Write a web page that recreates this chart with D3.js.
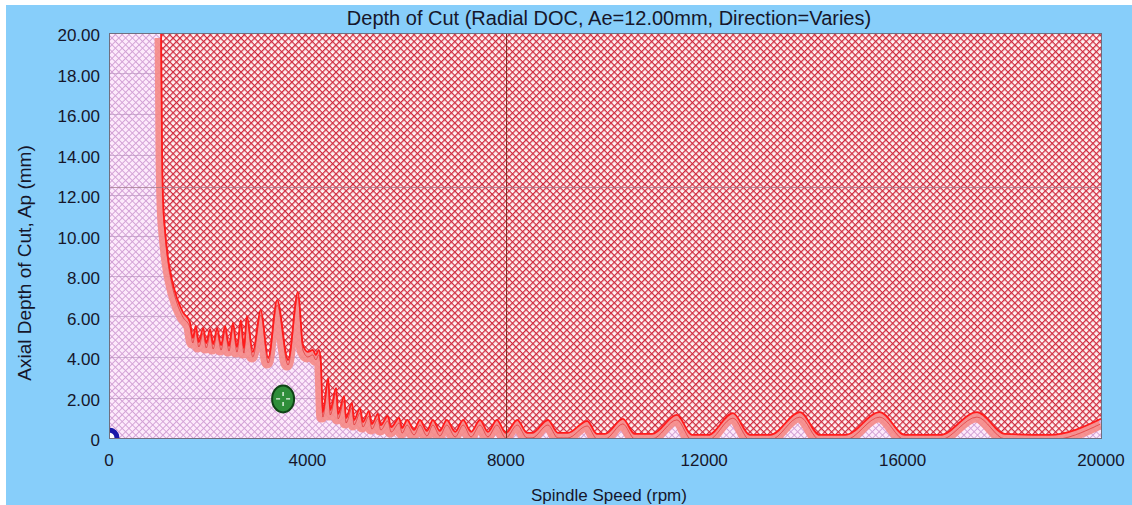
<!DOCTYPE html>
<html>
<head>
<meta charset="utf-8">
<script src="https://cdn.jsdelivr.net/npm/d3@7"></script>
<style>
  html, body { margin: 0; padding: 0; background: #ffffff; }
  svg { display: block; font-family: "Liberation Sans", Arial, sans-serif; }
</style>
</head>
<body>
<div id="chart"></div>
<script>
(function (d3) {
    'use strict';

    // stability boundary (rpm, mm)
    var boundaryRpm = [
        1050, 1070, 1090, 1130, 1190, 1270, 1370, 1490, 1630,
        1690, 1750, 1810, 1900, 1960, 2040, 2100, 2180, 2260, 2340, 2420, 2500, 2580, 2660, 2720,
        2780, 2900, 3060, 3210, 3390, 3610, 3810, 3910, 4010, 4110, 4170, 4230, 4270,
        4310, 4420, 4460, 4580, 4620, 4740, 4780, 4900, 4940, 5060, 5120, 5240, 5300, 5420, 5480,
        5620, 5690, 5850, 5910,
        6010, 6150, 6270, 6410, 6530, 6670, 6810, 6980, 7140, 7300, 7480, 7640, 7820, 8000,
        8230, 8430, 8530, 8850, 9050, 9250, 9640, 9840, 10000, 10360, 10600, 10950, 11450, 11750,
        12080, 12580, 12920, 13330, 13930, 14330, 14840, 15540, 16050, 16750, 17500, 18060,
        18970, 20000
    ];
    var boundaryDepth = [
        20.0, 14.2, 11.75, 10.27, 8.89, 7.80, 6.91, 6.22, 5.73,
        4.94, 5.53, 4.74, 5.43, 4.69, 5.38, 4.64, 5.43, 4.59, 5.53, 4.54, 5.68, 4.49, 5.83, 4.44,
        6.02, 4.25, 6.32, 3.95, 6.81, 3.85, 7.21, 4.59, 4.25, 4.35, 4.10, 4.35, 3.85,
        1.28, 2.96, 1.38, 2.47, 1.19, 2.07, 0.99, 1.73, 0.89, 1.48, 0.79, 1.33, 0.69, 1.19, 0.64,
        1.09, 0.54, 0.99, 0.49,
        0.89, 0.40, 0.89, 0.35, 0.89, 0.35, 0.89, 0.30, 0.89, 0.30, 0.89, 0.30, 0.89, 0.25,
        0.89, 0.25, 0.25, 0.89, 0.25, 0.25, 0.84, 0.20, 0.20, 0.94, 0.20, 0.20, 1.14, 0.15,
        0.15, 1.23, 0.15, 0.15, 1.28, 0.15, 0.15, 1.28, 0.15, 0.15, 1.28, 0.20,
        0.15, 0.95
    ];

    var xTicks = [0, 4000, 8000, 12000, 16000, 20000];
    var yTicks = [0, 2, 4, 6, 8, 10, 12, 14, 16, 18, 20];

    var cursorRpm = 8000, cursorDepth = 12.4;       // crosshair
    var pointRpm = 3510, pointDepth = 1.93;          // green operating point

    var titleText = 'Depth of Cut (Radial DOC, Ae=12.00mm, Direction=Varies)';
    var xLabel = 'Spindle Speed (rpm)';
    var yLabel = 'Axial Depth of Cut, Ap (mm)';

    var W = 1132, H = 505;
    var plot = {left: 109, top: 33, right: 1101, bottom: 438};

    var boundary = boundaryRpm.map(function (r, i) { return {rpm: r, ap: boundaryDepth[i]}; });

    var x = d3.scaleLinear().domain([0, 20000]).range([plot.left, plot.right]);
    var y = d3.scaleLinear().domain([0, 20]).range([plot.bottom, plot.top]);

    var svg = d3.select('#chart').append('svg')
        .attr('width', W)
        .attr('height', H);

    svg.append('rect')
        .attr('x', 6).attr('y', 5)
        .attr('width', W - 6).attr('height', H - 5)
        .attr('fill', '#87cefa');

    var defs = svg.append('defs');

    function hatch(id, bg, ink, w) {
        var p = defs.append('pattern')
            .attr('id', id)
            .attr('patternUnits', 'userSpaceOnUse')
            .attr('width', 4.8).attr('height', 4.8)
            .attr('patternTransform', 'rotate(45)');
        p.append('rect').attr('width', 4.8).attr('height', 4.8).attr('fill', bg);
        p.append('path')
            .attr('d', 'M0,0V4.8M0,0H4.8')
            .attr('stroke', ink)
            .attr('stroke-width', w);
    }
    hatch('stableHatch', '#fdeafb', '#d3a2d6', 1.9);
    hatch('chatterHatch', '#fff2f2', '#cf2a3e', 2.5);

    defs.append('clipPath').attr('id', 'plotClip')
        .append('rect')
        .attr('x', plot.left).attr('y', plot.top)
        .attr('width', plot.right - plot.left)
        .attr('height', plot.bottom - plot.top);

    var g = svg.append('g').attr('clip-path', 'url(#plotClip)');

    g.append('rect')
        .attr('x', plot.left).attr('y', plot.top)
        .attr('width', plot.right - plot.left)
        .attr('height', plot.bottom - plot.top)
        .attr('fill', 'url(#stableHatch)');

    g.selectAll('.grid')
        .data(yTicks.slice(1, -1))
        .enter()
      .append('line')
        .attr('class', 'grid')
        .attr('x1', plot.left).attr('x2', plot.right)
        .attr('y1', function (d) { return Math.round(y(d)) + 0.5; })
        .attr('y2', function (d) { return Math.round(y(d)) + 0.5; })
        .attr('stroke', '#b48fba')
        .attr('stroke-opacity', 0.6);

    var area = d3.area()
        .x(function (d) { return x(d.rpm); })
        .y0(function (d) { return y(d.ap); })
        .y1(y(20))
        .curve(d3.curveMonotoneX);

    var line = d3.line()
        .x(function (d) { return x(d.rpm); })
        .y(function (d) { return y(d.ap); })
        .curve(d3.curveMonotoneX);

    // soft band under the limit
    g.append('path')
        .datum(boundary)
        .attr('d', line)
        .attr('transform', 'translate(-1,5)')
        .attr('fill', 'none')
        .attr('stroke', '#f58a86')
        .attr('stroke-opacity', 0.9)
        .attr('stroke-width', 11)
        .attr('stroke-linejoin', 'round');

    g.append('path')
        .datum(boundary)
        .attr('d', area)
        .attr('fill', 'url(#chatterHatch)');

    g.append('path')
        .datum(boundary)
        .attr('d', line)
        .attr('transform', 'translate(0,5)')
        .attr('fill', 'none')
        .attr('stroke', '#d81818')
        .attr('stroke-opacity', 0.6)
        .attr('stroke-width', 0.9);

    g.append('path')
        .datum(boundary)
        .attr('d', line)
        .attr('fill', 'none')
        .attr('stroke', '#ff1c1c')
        .attr('stroke-width', 1.8);

    // crosshair
    g.append('line')
        .attr('x1', Math.round(x(cursorRpm)) + 0.5).attr('x2', Math.round(x(cursorRpm)) + 0.5)
        .attr('y1', plot.top).attr('y2', plot.bottom)
        .attr('stroke', '#7e3328');
    g.append('line')
        .attr('x1', plot.left).attr('x2', plot.right)
        .attr('y1', Math.round(y(cursorDepth)) + 0.5).attr('y2', Math.round(y(cursorDepth)) + 0.5)
        .attr('stroke', '#9c7486')
        .attr('stroke-opacity', 0.7);

    // origin marker
    g.append('circle')
        .attr('cx', x(0)).attr('cy', y(0))
        .attr('r', 8)
        .attr('fill', '#ffffff')
        .attr('stroke', '#1818a8')
        .attr('stroke-width', 5);

    // frame
    svg.append('rect')
        .attr('x', plot.left + 0.5).attr('y', plot.top + 0.5)
        .attr('width', plot.right - plot.left)
        .attr('height', plot.bottom - plot.top)
        .attr('fill', 'none')
        .attr('stroke', '#6f6f80');

    // operating point
    var pt = svg.append('g')
        .attr('transform', 'translate(' + x(pointRpm) + ',' + y(pointDepth) + ')');
    pt.append('ellipse')
        .attr('rx', 11).attr('ry', 13.5)
        .attr('fill', '#2f8e3a')
        .attr('stroke', '#0f4416')
        .attr('stroke-width', 2);
    pt.append('path')
        .attr('d', 'M0,-7V-3M0,3V7M-7,0H-3M3,0H7')
        .attr('stroke', '#e8f5e8')
        .attr('stroke-width', 1.4);

    // axes text
    var ink = '#16162a';

    svg.selectAll('.ytick')
        .data(yTicks)
        .enter()
      .append('text')
        .attr('class', 'ytick')
        .attr('x', 100)
        .attr('y', function (d) { return y(d) + 8; })
        .attr('text-anchor', 'end')
        .attr('font-size', 17)
        .attr('fill', ink)
        .text(function (d) { return d === 0 ? '0' : d3.format('.2f')(d); });

    svg.selectAll('.xtick')
        .data(xTicks)
        .enter()
      .append('text')
        .attr('class', 'xtick')
        .attr('x', function (d) { return x(d); })
        .attr('y', 466)
        .attr('text-anchor', 'middle')
        .attr('font-size', 17)
        .attr('fill', ink)
        .text(function (d) { return String(d); });

    svg.append('text')
        .attr('x', 609).attr('y', 25)
        .attr('text-anchor', 'middle')
        .attr('font-size', 20)
        .attr('fill', ink)
        .text(titleText);

    svg.append('text')
        .attr('x', 609).attr('y', 501)
        .attr('text-anchor', 'middle')
        .attr('font-size', 17)
        .attr('fill', ink)
        .text(xLabel);

    svg.append('text')
        .attr('transform', 'translate(31,263) rotate(-90)')
        .attr('text-anchor', 'middle')
        .attr('font-size', 19)
        .attr('fill', ink)
        .text(yLabel);

}(window.d3));
</script>
</body>
</html>
